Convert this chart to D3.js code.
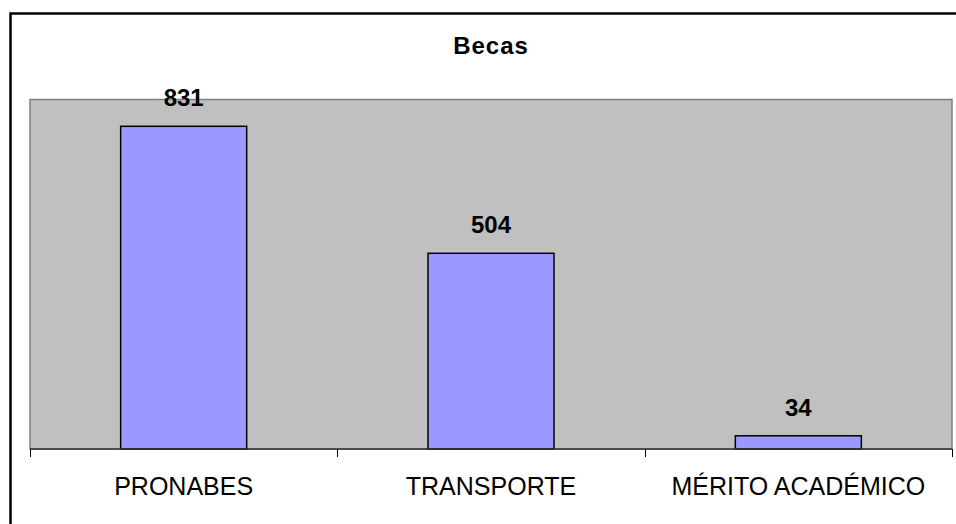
<!DOCTYPE html>
<html>
<head>
<meta charset="utf-8">
<script src="https://cdn.jsdelivr.net/npm/d3@7"></script>
<style>
  body { margin: 0; background: #fff; }
  svg { display: block; font-family: "Liberation Sans", Arial, sans-serif; }
</style>
</head>
<body>
<div id="chart"></div>
<script>
// data
let categories = ["PRONABES", "TRANSPORTE", "MÉRITO ACADÉMICO"];
let values = [831, 504, 34];
let yTicks = [0, 900];

let W = 956, H = 524;
let margin = {top: 99.5, right: 4, bottom: 75, left: 30},
    width = W - margin.left - margin.right,
    height = H - margin.top - margin.bottom;

let svg = d3.select("#chart").append("svg")
    .attr("width", W)
    .attr("height", H);

// outer frame (cut off on right and bottom)
svg.append("rect")
    .attr("x", 10.5).attr("y", 13.5)
    .attr("width", 960).attr("height", 530)
    .attr("fill", "none")
    .attr("stroke", "#000")
    .attr("stroke-width", 2.5);

// title
svg.append("text")
    .attr("x", margin.left + width / 2)
    .attr("y", 54)
    .attr("text-anchor", "middle")
    .attr("font-size", 24)
    .attr("font-weight", "bold")
    .attr("letter-spacing", 1)
    .text("Becas");

let g = svg.append("g")
    .attr("transform", "translate(" + margin.left + "," + margin.top + ")");

// scales
let x = d3.scaleBand()
    .domain(categories)
    .range([0, width])
    .padding(0);
let y = d3.scaleLinear()
    .domain(d3.extent(yTicks))
    .range([height, 0]);

// plot area
g.append("rect")
    .attr("x", 0).attr("y", 0)
    .attr("width", width).attr("height", height)
    .attr("fill", "#c0c0c0")
    .attr("stroke", "#808080")
    .attr("stroke-width", 1.5);

// bars
let barW = x.bandwidth() * 0.41;
g.selectAll(".bar")
    .data(values)
    .enter()
    .append("rect")
    .attr("class", "bar")
    .attr("x", (d, i) => x(categories[i]) + (x.bandwidth() - barW) / 2)
    .attr("width", barW)
    .attr("y", d => y(d))
    .attr("height", d => height - y(d))
    .attr("fill", "#9999ff")
    .attr("stroke", "#000")
    .attr("stroke-width", 1.5);

// value labels
g.selectAll(".val")
    .data(values)
    .enter()
    .append("text")
    .attr("class", "val")
    .attr("x", (d, i) => x(categories[i]) + x.bandwidth() / 2)
    .attr("y", d => y(d) - 20)
    .attr("text-anchor", "middle")
    .attr("font-size", 24)
    .attr("font-weight", "bold")
    .text(d => d);

// x axis line
g.append("line")
    .attr("x1", 0).attr("x2", width)
    .attr("y1", height).attr("y2", height)
    .attr("stroke", "#333")
    .attr("stroke-width", 1.5);

// tick marks at band edges
let edges = categories.map(c => x(c)).concat([width]);
g.selectAll(".tick")
    .data(edges)
    .enter()
    .append("line")
    .attr("x1", d => Math.round(d) + 0.5)
    .attr("x2", d => Math.round(d) + 0.5)
    .attr("y1", height)
    .attr("y2", height + 8)
    .attr("stroke", "#000");

// category labels
g.selectAll(".cat")
    .data(categories)
    .enter()
    .append("text")
    .attr("class", "cat")
    .attr("x", d => x(d) + x.bandwidth() / 2)
    .attr("y", height + 46)
    .attr("text-anchor", "middle")
    .attr("font-size", 25)
    .text(d => d);
</script>
</body>
</html>
